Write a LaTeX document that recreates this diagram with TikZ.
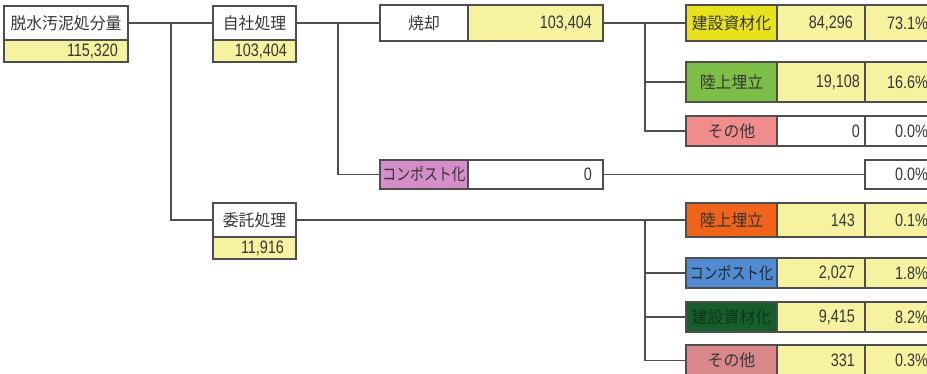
\documentclass[tikz,border=0pt]{standalone}
\usepackage{fontspec}
\newfontfamily\cjk[FakeStretch=0.96]{Noto Sans CJK JP}
\newfontfamily\cjkn[FakeStretch=0.84]{Noto Sans CJK JP}
\newfontfamily\numf[FakeStretch=0.8]{Liberation Sans}
\definecolor{yel}{RGB}{246,242,160}
\definecolor{keny}{RGB}{232,226,30}
\definecolor{grn}{RGB}{125,190,70}
\definecolor{pnk}{RGB}{240,140,140}
\definecolor{pur}{RGB}{212,142,202}
\definecolor{org}{RGB}{240,100,25}
\definecolor{blu}{RGB}{80,140,210}
\definecolor{dgrn}{RGB}{22,95,45}
\definecolor{pnkb}{RGB}{216,136,136}
\definecolor{bord}{RGB}{78,78,78}
\definecolor{tdark}{RGB}{55,55,55}
\definecolor{tdg}{RGB}{12,55,25}
\tikzset{
  cellbox/.style={draw=bord, line width=1.7pt, inner ysep=0pt, text=tdark,
    font=\numf\fontsize{18}{18}\selectfont},
  conn/.style={draw=bord, line width=1.8pt},
  jp/.style={font=\cjk\fontsize{16.5}{16.5}\selectfont},
  jpn/.style={font=\cjkn\fontsize{16.5}{16.5}\selectfont}
}
% name, x1, y1, x2, y2, style, align, pad, content
\newcommand\mycell[9]{%
  \pgfmathsetmacro\cw{#4-#2}%
  \pgfmathsetmacro\ch{#5-#3}%
  \pgfmathsetmacro\tw{max(#4-#2-2*#8,1)}%
  \node[cellbox, #6, minimum width=\cw pt, minimum height=\ch pt,
        text width=\tw pt, inner xsep=#8pt, align=#7]
        (#1) at ({(#2+#4)/2},{(#3+#5)/2}) {#9};}
\begin{document}
\begin{tikzpicture}[x=1pt,y=-1pt]
\useasboundingbox (0,0) rectangle (927,373);
\clip (0,0) rectangle (927,373);
\fill[white] (0,0) rectangle (927,373);

% left column
\mycell{dsv}{4}{6}{128}{40}{fill=white,jp}{center}{1}{脱水汚泥処分量}
\mycell{dsvN}{4}{40}{128}{62}{fill=yel}{right}{10}{115,320}
\mycell{jisha}{213}{6}{296}{40}{fill=white,jp}{center}{1}{自社処理}
\mycell{jishaN}{213}{40}{296}{62}{fill=yel}{right}{9}{103,404}
\mycell{itaku}{213}{203}{296}{237}{fill=white,jp}{center}{1}{委託処理}
\mycell{itakuN}{213}{237}{296}{259}{fill=yel}{right}{12}{11,916}

% middle column
\mycell{shoL}{380}{5}{468}{41}{fill=white,jp}{center}{1}{焼却}
\mycell{shoN}{468}{5}{603}{41}{fill=yel}{right}{11}{103,404}
\mycell{compL}{380}{160}{468}{189}{fill=pur,jpn,text=black!80}{center}{1}{コンポスト化}
\mycell{compN}{468}{160}{603}{189}{fill=white}{right}{11}{0}

% right column, upper group
\mycell{kenA}{686}{5}{777}{41}{fill=keny,jp}{center}{1}{建設資材化}
\mycell{kenAN}{777}{5}{865}{41}{fill=yel}{right}{12}{84,296}
\mycell{kenAP}{865}{5}{936}{41}{fill=yel}{right}{8}{73.1\%}
\mycell{rikA}{686}{62}{777}{102}{fill=grn,jp}{center}{1}{陸上埋立}
\mycell{rikAN}{777}{62}{865}{102}{fill=yel}{right}{5}{19,108}
\mycell{rikAP}{865}{62}{936}{102}{fill=yel}{right}{8}{16.6\%}
\mycell{sonoA}{686}{116}{777}{146}{fill=pnk,jp}{center}{1}{その他}
\mycell{sonoAN}{777}{116}{865}{146}{fill=white}{right}{5}{0}
\mycell{sonoAP}{865}{116}{936}{146}{fill=white}{right}{8}{0.0\%}
\mycell{compP}{865}{160}{936}{189}{fill=white}{right}{8}{0.0\%}

% right column, lower group
\mycell{rikB}{686}{203}{777}{237}{fill=org,jp,text=black!80}{center}{1}{陸上埋立}
\mycell{rikBN}{777}{203}{865}{237}{fill=yel}{right}{10}{143}
\mycell{rikBP}{865}{203}{936}{237}{fill=yel}{right}{8}{0.1\%}
\mycell{compB}{686}{258}{777}{288}{fill=blu,jpn,text=black!85}{center}{1}{コンポスト化}
\mycell{compBN}{777}{258}{865}{288}{fill=yel}{right}{10}{2,027}
\mycell{compBP}{865}{258}{936}{288}{fill=yel}{right}{8}{1.8\%}
\mycell{kenB}{686}{302}{777}{332}{fill=dgrn,jp,text=tdg}{center}{1}{建設資材化}
\mycell{kenBN}{777}{302}{865}{332}{fill=yel}{right}{10}{9,415}
\mycell{kenBP}{865}{302}{936}{332}{fill=yel}{right}{8}{8.2\%}
\mycell{sonoB}{686}{345}{777}{376}{fill=pnkb,jp}{center}{1}{その他}
\mycell{sonoBN}{777}{345}{865}{376}{fill=yel}{right}{10}{331}
\mycell{sonoBP}{865}{345}{936}{376}{fill=yel}{right}{8}{0.3\%}

% connectors
\coordinate (v1) at (171,23);
\coordinate (v2) at (338,23);
\coordinate (v3) at (645,23);
\coordinate (v4) at (645,220);
\draw[conn] (dsv.east) -- (jisha.west);
\draw[conn] (v1) |- (itaku.west);
\draw[conn] (jisha.east) -- (shoL.west);
\draw[conn] (v2) |- (compL.west);
\draw[conn] (shoN.east) -- (kenA.west);
\draw[conn] (v3) |- (rikA.west);
\draw[conn] (v3) |- (sonoA.west);
\draw[conn] (compN.east) -- (compP.west);
\draw[conn] (itaku.east) -- (rikB.west);
\draw[conn] (v4) |- (compB.west);
\draw[conn] (v4) |- (kenB.west);
\draw[conn] (v4) |- (sonoB.west);
\end{tikzpicture}
\end{document}
